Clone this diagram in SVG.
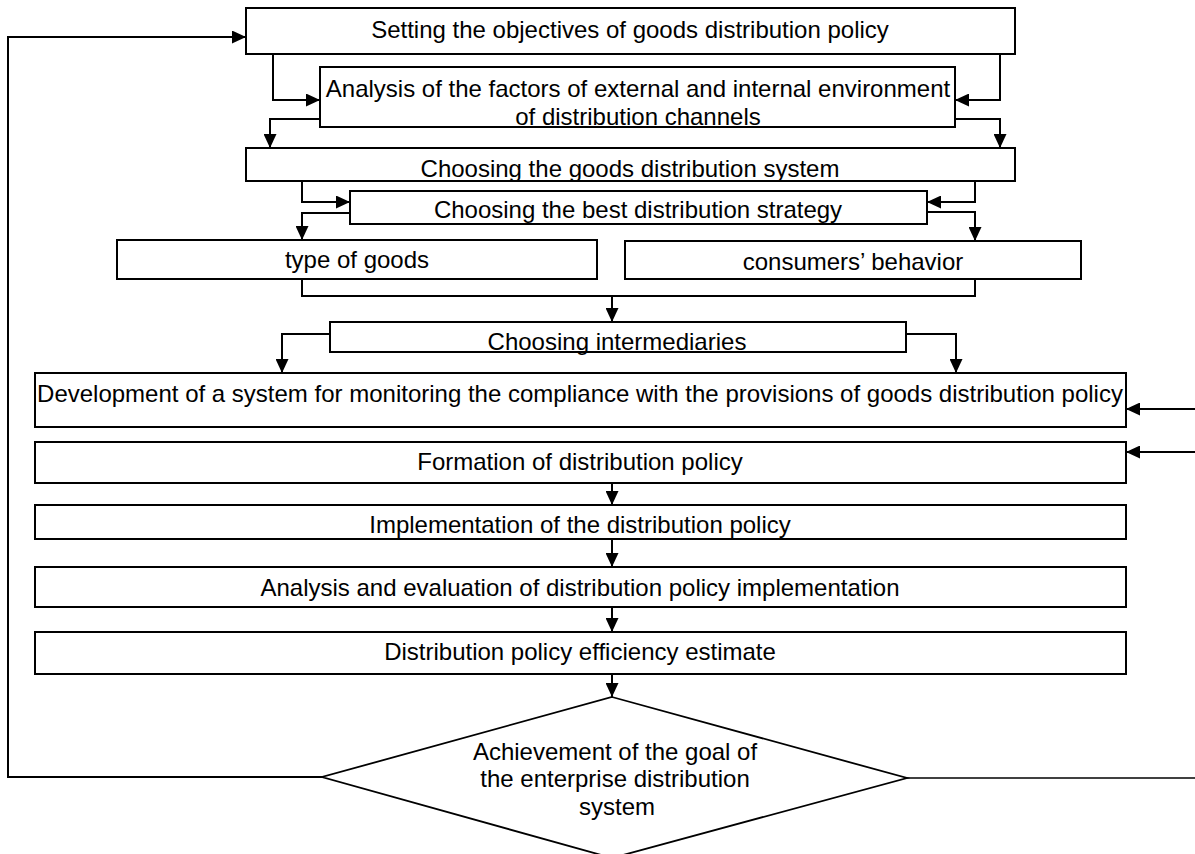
<svg xmlns="http://www.w3.org/2000/svg" width="1195" height="854" viewBox="0 0 1195 854">
<style>
.box{fill:#fff;stroke:#000;stroke-width:2}
.t{font-family:"Liberation Sans",Arial,sans-serif;font-size:24px;fill:#000;text-anchor:middle}
.c{fill:none;stroke:#000;stroke-width:2}
.ca{fill:none;stroke:#000;stroke-width:2;marker-end:url(#ah)}
.thin{fill:none;stroke:#000;stroke-width:1.6}
</style>
<defs>
<marker id="ah" viewBox="0 0 14 13" refX="14" refY="6.5" markerWidth="14" markerHeight="13" orient="auto" markerUnits="userSpaceOnUse">
<path d="M0,0 L14,6.5 L0,13 Z" fill="#000"/>
</marker>
</defs>
<g id="connectors">
<path class="ca" d="M273,54 V100 H320"/>
<path class="ca" d="M1000,54 V100 H955"/>
<path class="ca" d="M320,119 H270 V148"/>
<path class="ca" d="M955,119 H1000 V148"/>
<path class="ca" d="M302,181 V202 H350"/>
<path class="ca" d="M975,181 V202 H927"/>
<path class="ca" d="M350,213 H302 V240"/>
<path class="ca" d="M927,212 H975 V241"/>
<path class="c" d="M302,279 V296 H975 V279"/>
<path class="ca" d="M612,296 V322"/>
<path class="ca" d="M330,334 H282 V373"/>
<path class="ca" d="M906,334 H956 V373"/>
<path class="ca" d="M1195,409 H1126"/>
<path class="ca" d="M1195,452 H1126"/>
<path class="ca" d="M612,483 V505"/>
<path class="ca" d="M612,539 V567"/>
<path class="ca" d="M612,607 V632"/>
<path class="ca" d="M612,674 V697"/>
<path class="ca" d="M322,777 H8 V37 H246"/>
<path class="thin" d="M907,778 H1195"/>
</g>
<g id="n1"><rect class="box" x="246" y="8" width="769" height="46"/><text class="t" x="630" y="38">Setting the objectives of goods distribution policy</text></g>
<g id="n2"><rect class="box" x="320" y="67" width="635" height="60"/><text class="t" x="638" y="97">Analysis of the factors of external and internal environment</text><text class="t" x="638" y="125">of distribution channels</text></g>
<g id="n3"><rect class="box" x="246" y="148" width="769" height="33"/><text class="t" x="630" y="177">Choosing the goods distribution system</text></g>
<g id="n4"><rect class="box" x="350" y="191" width="577" height="33"/><text class="t" x="638" y="218">Choosing the best distribution strategy</text></g>
<g id="n5"><rect class="box" x="117" y="240" width="480" height="39"/><text class="t" x="357" y="268">type of goods</text></g>
<g id="n6"><rect class="box" x="625" y="241" width="456" height="38"/><text class="t" x="853" y="270">consumers’ behavior</text></g>
<g id="n7"><rect class="box" x="330" y="322" width="576" height="30"/><text class="t" x="617" y="350">Choosing intermediaries</text></g>
<g id="n8"><rect class="box" x="35" y="373" width="1091" height="54"/><text class="t" x="580" y="402">Development of a system for monitoring the compliance with the provisions of goods distribution policy</text></g>
<g id="n9"><rect class="box" x="35" y="442" width="1091" height="41"/><text class="t" x="580" y="470">Formation of distribution policy</text></g>
<g id="n10"><rect class="box" x="35" y="505" width="1091" height="34"/><text class="t" x="580" y="533">Implementation of the distribution policy</text></g>
<g id="n11"><rect class="box" x="35" y="567" width="1091" height="40"/><text class="t" x="580" y="596">Analysis and evaluation of distribution policy implementation</text></g>
<g id="n12"><rect class="box" x="35" y="632" width="1091" height="42"/><text class="t" x="580" y="660">Distribution policy efficiency estimate</text></g>
<g id="n13"><path d="M612,697 L907,778 L612,858 L322,777 Z" fill="#fff" stroke="#000" stroke-width="1.8"/><text class="t" x="615" y="760">Achievement of the goal of</text><text class="t" x="615" y="787">the enterprise distribution</text><text class="t" x="617" y="815">system</text></g>
</svg>
